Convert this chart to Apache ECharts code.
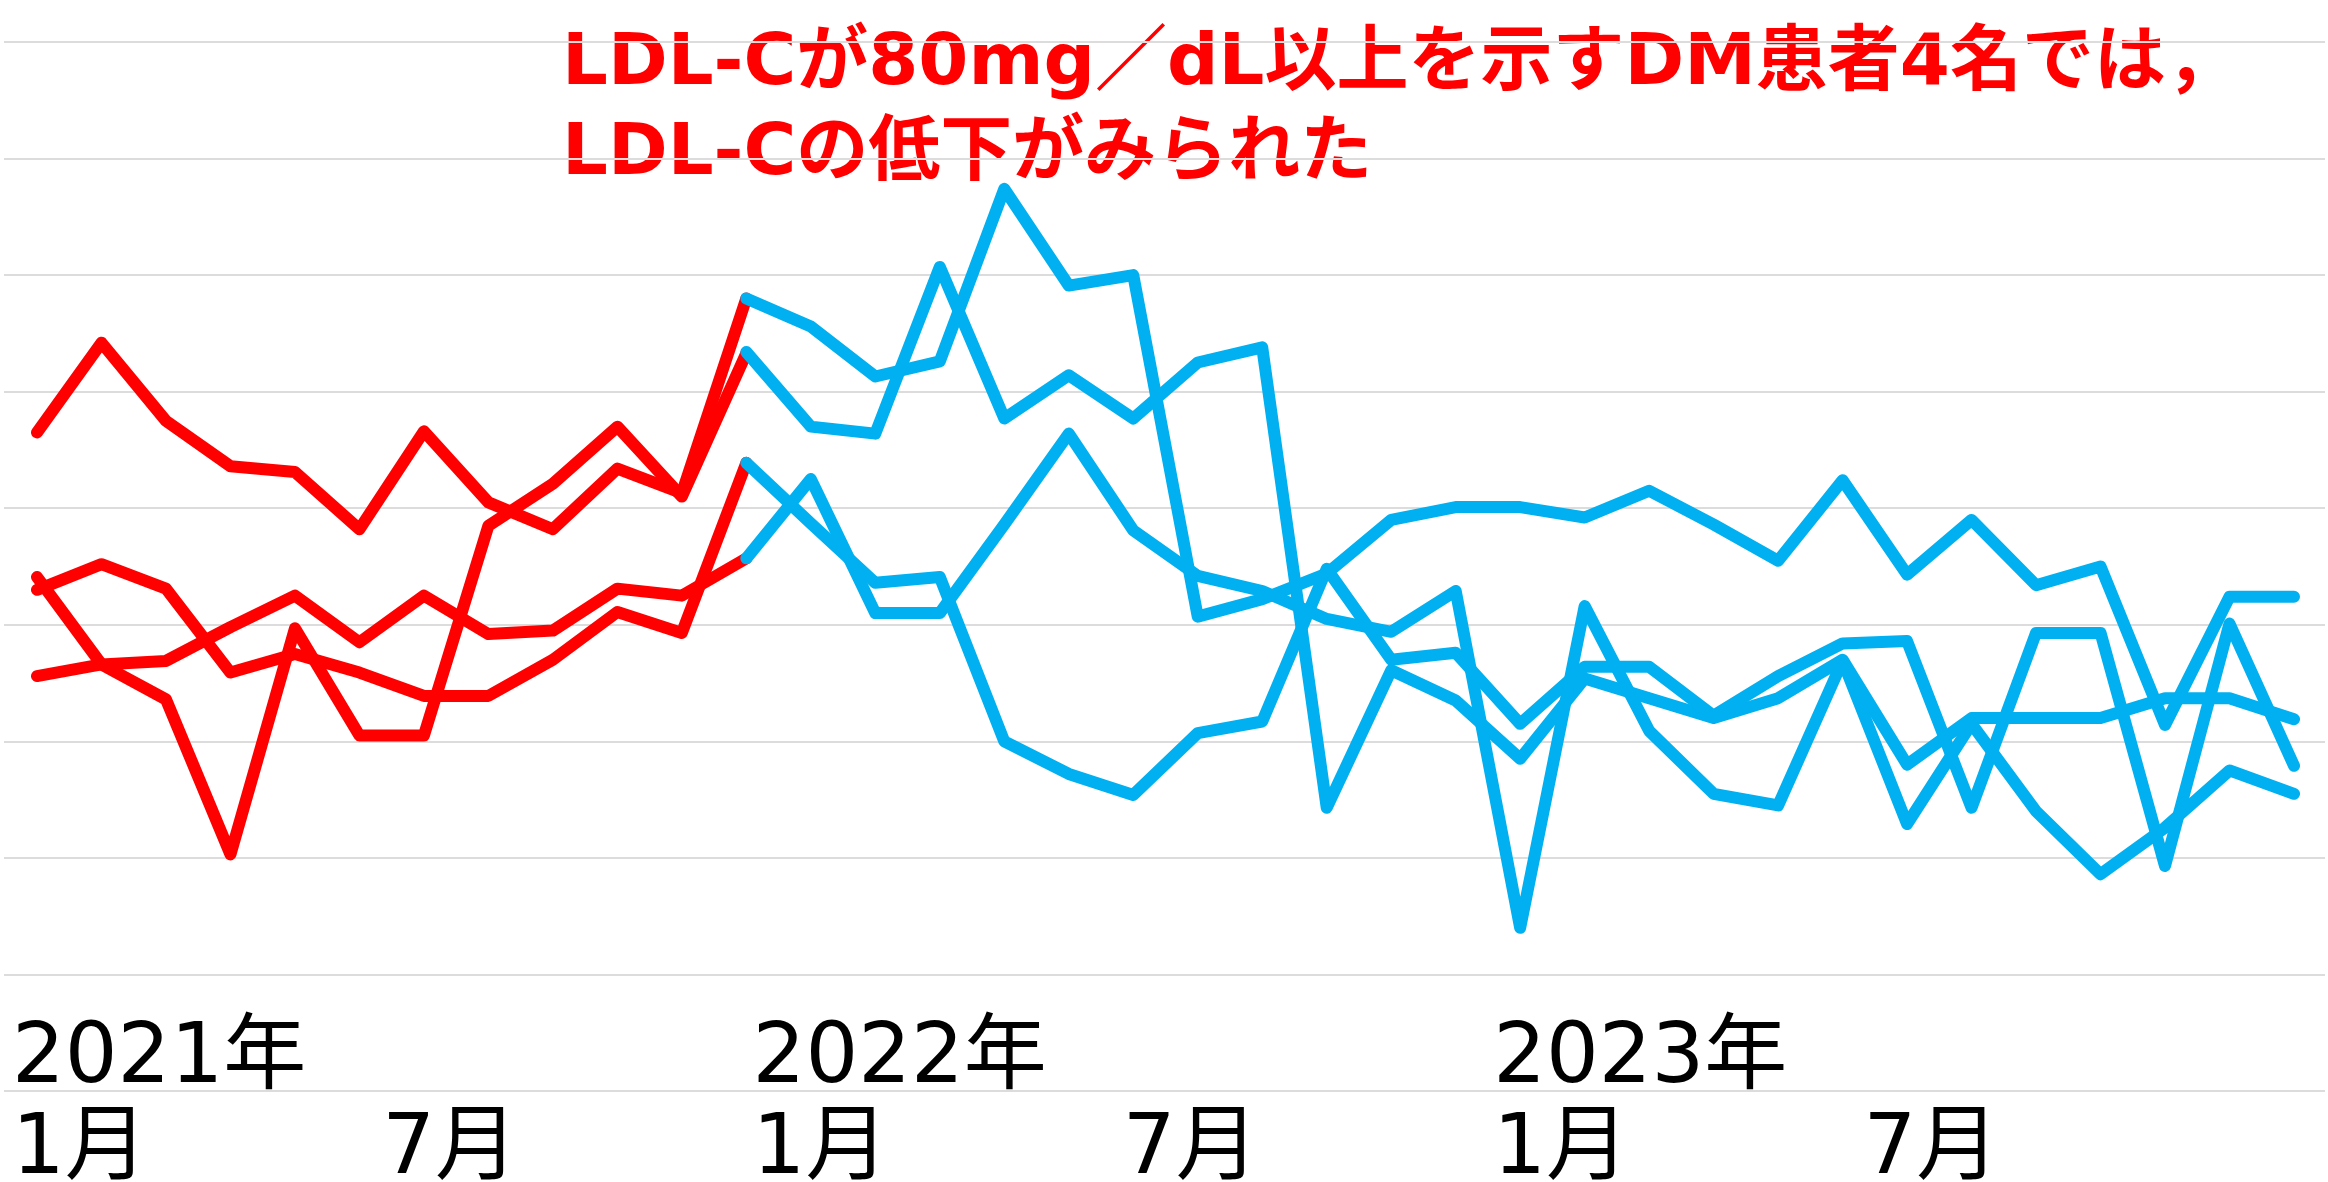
<html>
<head>
    <meta charset="utf-8">
    <title>LDL-C 推移</title>
    <script src="https://cdn.jsdelivr.net/npm/echarts@6.0.0/dist/echarts.min.js"></script>
    <style>
        html, body { margin: 0; padding: 0; background: #fff; }
        #main { width: 2328px; height: 1182px; }
    </style>
</head>
<body>
<div id="main"></div>
<script type="text/javascript">
    // 月（2021年1月〜2023年12月）
    var months = [
        '2021/1', '2021/2', '2021/3', '2021/4', '2021/5', '2021/6',
        '2021/7', '2021/8', '2021/9', '2021/10', '2021/11', '2021/12',
        '2022/1', '2022/2', '2022/3', '2022/4', '2022/5', '2022/6',
        '2022/7', '2022/8', '2022/9', '2022/10', '2022/11', '2022/12',
        '2023/1', '2023/2', '2023/3', '2023/4', '2023/5', '2023/6',
        '2023/7', '2023/8', '2023/9', '2023/10', '2023/11', '2023/12'
    ];
    var yearTicks = ['2021年', '2022年', '2023年'];
    var yearTickIndex = [0, 12, 24];
    var monthTicks = ['1月', '7月', '1月', '7月', '1月', '7月'];
    var monthTickIndex = [0, 6, 12, 18, 24, 30];

    // 2021年1月〜12月（赤）
    var redA = [116.5, 124.2, 117.5, 113.6, 113.1, 108.2, 116.6, 110.5, 108.2, 113.4, 111.3, 128.0];
    var redB = [95.6, 96.6, 96.9, 99.8, 102.5, 98.5, 102.5, 99.2, 99.5, 103.1, 102.5, 105.7];
    var redC = [103.0, 105.2, 103.1, 95.9, 97.5, 95.9, 93.9, 93.9, 97.0, 101.1, 99.3, 113.9];
    var redD = [104.1, 96.6, 93.6, 80.3, 99.7, 90.5, 90.5, 108.5, 112.1, 117.0, 111.0, 123.3];
    var redStart = 0;

    // 2021年12月〜2023年12月（青）
    var blueA = [128.0, 125.6, 121.3, 122.6, 137.4, 129.1, 130.0, 100.7, 102.2, 104.4, 109.0, 110.1, 110.1,
        109.2, 111.5, 108.6, 105.5, 112.4, 104.3, 109.0, 103.4, 105.0, 91.4, 102.4, 102.4];
    var blueB = [123.4, 117.0, 116.4, 130.7, 117.7, 121.4, 117.7, 122.5, 123.8, 84.3, 96.1, 93.5, 88.5,
        95.4, 93.7, 92.0, 93.7, 97.0, 88.0, 92.0, 92.0, 92.0, 93.7, 93.7, 91.9];
    var blueC = [113.9, 108.7, 103.6, 104.1, 90.0, 87.2, 85.4, 90.7, 91.7, 104.8, 97.0, 97.6, 91.5,
        96.4, 96.4, 92.2, 95.6, 98.4, 98.6, 84.3, 99.3, 99.3, 79.3, 100.1, 87.9];
    var blueD = [105.7, 112.5, 101.0, 101.0, 108.6, 116.4, 108.1, 104.2, 102.9, 100.5, 99.4, 102.9, 74.0,
        101.6, 90.9, 85.5, 84.5, 96.9, 82.9, 91.5, 84.0, 78.6, 82.6, 87.5, 85.5];
    var blueStart = 11;

    var yMin = 60, yMax = 150, yStep = 10;

    var RED = '#FF0000';
    var BLUE = '#00B0F0';
    var labelFont = '"DejaVu Sans", "Noto Sans CJK JP", sans-serif';

    function pad(values, start) {
        var out = [];
        for (var i = 0; i < months.length; i++) {
            var k = i - start;
            out.push(k >= 0 && k < values.length ? values[k] : null);
        }
        return out;
    }

    function lineSeries(name, values, start, color) {
        return {
            name: name,
            type: 'line',
            xAxisIndex: 1,
            yAxisIndex: 1,
            data: pad(values, start),
            symbol: 'none',
            silent: true,
            lineStyle: { color: color, width: 12, cap: 'round', join: 'round' },
            itemStyle: { color: color }
        };
    }

    function tickFormatter(ticks, idx) {
        return function (value, index) {
            var p = idx.indexOf(index);
            return p >= 0 ? ticks[p] : '';
        };
    }

    var myChart = echarts.init(document.getElementById('main'), null, { renderer: 'canvas' });
    var option = {
        animation: false,
        backgroundColor: '#fff',
        grid: [
            { left: 4, right: 3, top: 42, bottom: 91 },      // 目盛線
            { left: 37, right: 34, top: 42, bottom: 91 },    // データ
            { left: 12, right: 156, top: 990, height: 10 }   // 軸ラベル
        ],
        xAxis: [
            { gridIndex: 0, type: 'value', min: 0, max: 1, show: false },
            { gridIndex: 1, type: 'category', data: months, boundaryGap: false, show: false },
            {
                gridIndex: 2, type: 'category', data: months, boundaryGap: false, position: 'bottom',
                axisLine: { show: false }, axisTick: { show: false },
                axisLabel: {
                    interval: 0, formatter: tickFormatter(yearTicks, yearTickIndex),
                    align: 'left', verticalAlign: 'middle', margin: 68,
                    fontSize: 83, fontFamily: labelFont, color: '#000'
                }
            },
            {
                gridIndex: 2, type: 'category', data: months, boundaryGap: false, position: 'bottom',
                axisLine: { show: false }, axisTick: { show: false },
                axisLabel: {
                    interval: 0, formatter: tickFormatter(monthTicks, monthTickIndex),
                    align: 'left', verticalAlign: 'middle', margin: 159,
                    fontSize: 83, fontFamily: labelFont, color: '#000'
                }
            }
        ],
        yAxis: [
            {
                gridIndex: 0, type: 'value', min: yMin, max: yMax, interval: yStep,
                axisLine: { show: false }, axisTick: { show: false }, axisLabel: { show: false },
                splitLine: { show: true, lineStyle: { color: '#DCDCDC', width: 2 } }
            },
            { gridIndex: 1, type: 'value', min: yMin, max: yMax, interval: yStep, show: false, splitLine: { show: false } },
            { gridIndex: 2, type: 'value', show: false, splitLine: { show: false } }
        ],
        graphic: [
            {
                type: 'text', x: 562, y: 65,
                style: {
                    text: 'LDL-Cが80mg／dL以上を示すDM患者4名では，',
                    fill: RED, fontSize: 72, fontWeight: 'bold', fontFamily: labelFont,
                    align: 'left', verticalAlign: 'middle'
                }
            },
            {
                type: 'text', x: 562, y: 155,
                style: {
                    text: 'LDL-Cの低下がみられた',
                    fill: RED, fontSize: 72, fontWeight: 'bold', fontFamily: labelFont,
                    align: 'left', verticalAlign: 'middle'
                }
            }
        ],
        series: [
            lineSeries('赤1', redA, redStart, RED),
            lineSeries('赤2', redB, redStart, RED),
            lineSeries('赤3', redC, redStart, RED),
            lineSeries('赤4', redD, redStart, RED),
            lineSeries('青1', blueA, blueStart, BLUE),
            lineSeries('青2', blueB, blueStart, BLUE),
            lineSeries('青3', blueC, blueStart, BLUE),
            lineSeries('青4', blueD, blueStart, BLUE)
        ]
    };
    myChart.setOption(option);
</script>
</body>
</html>
